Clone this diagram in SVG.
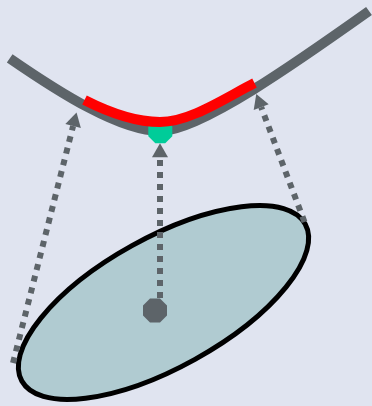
<svg xmlns="http://www.w3.org/2000/svg" width="372" height="406" viewBox="0 0 372 406">
<defs>
<style>
.conn{fill:none;stroke:#5d6469;stroke-width:6;stroke-dasharray:6 6;marker-end:url(#ah)}
.curve{fill:none;stroke:#5d6469;stroke-width:10}
.seg{fill:none;stroke:#ff0000;stroke-width:10}
</style>
<marker id="ah" markerUnits="userSpaceOnUse" markerWidth="20" markerHeight="20" refX="0" refY="0" orient="auto" viewBox="-2 -10 20 20" overflow="visible">
<path d="M0,-8 L14,0 L0,8 z" fill="#5d6469"/>
</marker>
</defs>
<rect width="372" height="406" fill="#e0e4f0"/>
<g id="ellipse">
<ellipse cx="163.5" cy="302.5" rx="162" ry="65" transform="rotate(-29 163.5 302.5)" fill="#b0cbd1" stroke="#000" stroke-width="5"/>
</g>
<g id="mean-point">
<polygon points="150.03,298.5 159.97,298.5 167,305.53 167,315.47 159.97,322.5 150.03,322.5 143,315.47 143,305.53" fill="#5d6469"/>
</g>
<g id="connectors">
<path class="conn" d="M13,363 L73.1,126"/>
<path class="conn" d="M160,298 L160,157.3"/>
<path class="conn" d="M304.5,222 L261.2,107.1"/>
</g>
<g id="curve">
<path class="curve" d="M9.7,58.3 C60,93 120,131 160,131 C200,131 300,60 369,11"/>
</g>
<g id="mapped-point">
<polygon points="155.33,119.3 165.27,119.3 172.3,126.33 172.3,136.27 165.27,143.3 155.33,143.3 148.3,136.27 148.3,126.33" fill="#00cc99"/>
</g>
<g id="segment">
<path class="seg" d="M84.5,100 C110,113 135,122 160,122 C190,122 225,98 254.5,83"/>
</g>
</svg>
